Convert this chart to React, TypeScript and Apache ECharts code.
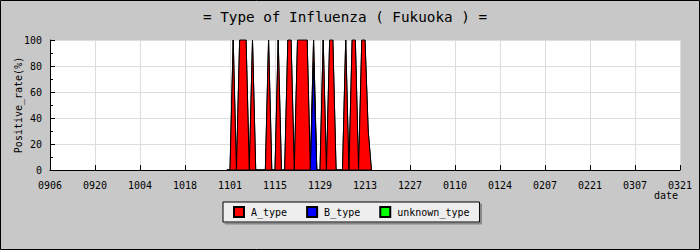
import React, { useEffect, useRef } from "react";
import * as echarts from "echarts";

// x axis: days counted from 09/06; one tick every 14 days
const tickLabels = ["0906", "0920", "1004", "1018", "1101", "1115", "1129", "1213", "1227", "0110", "0124", "0207", "0221", "0307", "0321"];
const firstDay = 55; // day index (from 0906) of the first value below

// positive rate (%) per day, from day 55 (10/31) to day 100 (12/15)
const aType = [
  0, 0, 100, 0, 100, 100, 100, 0, 100, 0,
  0, 0, 0, 100, 0, 0, 100, 0, 0, 100,
  100, 0, 100, 100, 100, 100, 0, 17, 0, 0,
  100, 0, 100, 100, 0, 0, 0, 100, 0, 100,
  100, 0, 100, 100, 30, 0,
];
const bType = [
  0, 0, 0, 0, 0, 0, 0, 0, 0, 0,
  0, 0, 0, 0, 0, 0, 0, 0, 0, 0,
  0, 0, 0, 0, 0, 0, 0, 83, 0, 0,
  0, 0, 0, 0, 0, 0, 0, 0, 0, 0,
  0, 0, 0, 0, 0, 0,
];
const unknownType = [
  0, 0, 0, 0, 0, 0, 0, 0, 0, 0,
  0, 0, 0, 0, 0, 0, 0, 0, 0, 0,
  0, 0, 0, 0, 0, 0, 0, 0, 0, 0,
  0, 0, 0, 0, 0, 0, 0, 0, 0, 0,
  0, 0, 0, 0, 0, 0,
];

const FONT = "'DejaVu Sans Mono', monospace";

export default function App() {
  const ref = useRef<HTMLDivElement>(null);
  useEffect(() => {
    if (!ref.current) return;
    const chart = echarts.init(ref.current, null, { renderer: "svg" });
    // accumulated (stacked) values: B at the bottom, A on B, unknown on top
    const cumB = bType.map((v) => v);
    const cumA = aType.map((v, i) => v + cumB[i]);
    const cumU = unknownType.map((v, i) => v + cumA[i]);
    const toPts = (arr: number[]) => arr.map((v, i) => [firstDay + i, v]);
    const mk = (name: string, arr: number[], color: string, z: number) => ({
      name,
      type: "line",
      data: toPts(arr),
      showSymbol: false,
      symbol: "none",
      z,
      lineStyle: { color: "#000", width: 1 },
      itemStyle: { color, borderColor: "#000", borderWidth: 1 },
      areaStyle: { color, opacity: 1, origin: "start" },
      emphasis: { disabled: true },
    });
    chart.setOption({
      animation: false,
      backgroundColor: "#c8c8c8",
      title: {
        text: "= Type of Influenza ( Fukuoka ) =",
        left: 198,
        top: 5,
        textStyle: { fontFamily: FONT, fontSize: 14.3, fontWeight: "normal", color: "#000" },
      },
      grid: {
        left: 50,
        right: 20,
        top: 40,
        bottom: 80,
        containLabel: false,
        show: true,
        backgroundColor: "#ffffff",
        borderWidth: 0,
      },
      legend: {
        data: ["A_type", "B_type", "unknown_type"],
        left: 223,
        top: 202,
        orient: "horizontal",
        icon: "rect",
        itemWidth: 10,
        itemHeight: 10,
        itemGap: 19,
        padding: [4, 10, 4, 10],
        backgroundColor: "#eeeeee",
        borderColor: "#000",
        borderWidth: 1,
        shadowColor: "#888888",
        shadowBlur: 0,
        shadowOffsetX: 2,
        shadowOffsetY: 2,
        textStyle: { fontFamily: FONT, fontSize: 10, color: "#000", padding: [0, 0, 0, 2] },
      },
      xAxis: {
        type: "value",
        min: 0,
        max: 196,
        interval: 14,
        name: "date",
        nameLocation: "end",
        nameGap: 0,
        nameTextStyle: {
          fontFamily: FONT,
          fontSize: 10,
          color: "#000",
          align: "right",
          verticalAlign: "top",
          padding: [20, 2, 0, 0],
        },
        axisLine: { lineStyle: { color: "#000", width: 1 } },
        axisTick: { inside: true, length: 5, lineStyle: { color: "#000" } },
        axisLabel: {
          fontFamily: FONT,
          fontSize: 10,
          color: "#000",
          margin: 10,
          formatter: (v: number) => tickLabels[Math.round(v / 14)] ?? "",
        },
        splitLine: { show: true, lineStyle: { color: "#dddddd", width: 1 } },
      },
      yAxis: {
        type: "value",
        min: 0,
        max: 100,
        interval: 20,
        name: "Positive_rate(%)",
        nameLocation: "middle",
        nameGap: 27,
        nameMoveOverlap: false,
        nameTextStyle: { fontFamily: FONT, fontSize: 10, color: "#000" },
        axisLine: { show: true, lineStyle: { color: "#000", width: 1 } },
        axisTick: { show: true, inside: true, length: 5, lineStyle: { color: "#000" } },
        minorTick: { show: true, splitNumber: 2, length: 3, lineStyle: { color: "#000" } },
        axisLabel: { fontFamily: FONT, fontSize: 10, color: "#000", margin: 8 },
        splitLine: { show: true, lineStyle: { color: "#dddddd", width: 1 } },
      },
      series: [
        mk("unknown_type", cumU, "#00ff00", 2),
        mk("A_type", cumA, "#ff0000", 3),
        mk("B_type", cumB, "#0000ff", 4),
      ],
      graphic: [
        {
          type: "rect",
          shape: { x: 0.5, y: 0.5, width: 699, height: 249 },
          style: { fill: "none", stroke: "#000", lineWidth: 1 },
          silent: true,
          z: 100,
        },
      ],
    });
    return () => chart.dispose();
  }, []);
  return (
    <div
      ref={ref}
      style={{ position: "fixed", left: 0, top: 0, width: 700, height: 250 }}
    />
  );
}
